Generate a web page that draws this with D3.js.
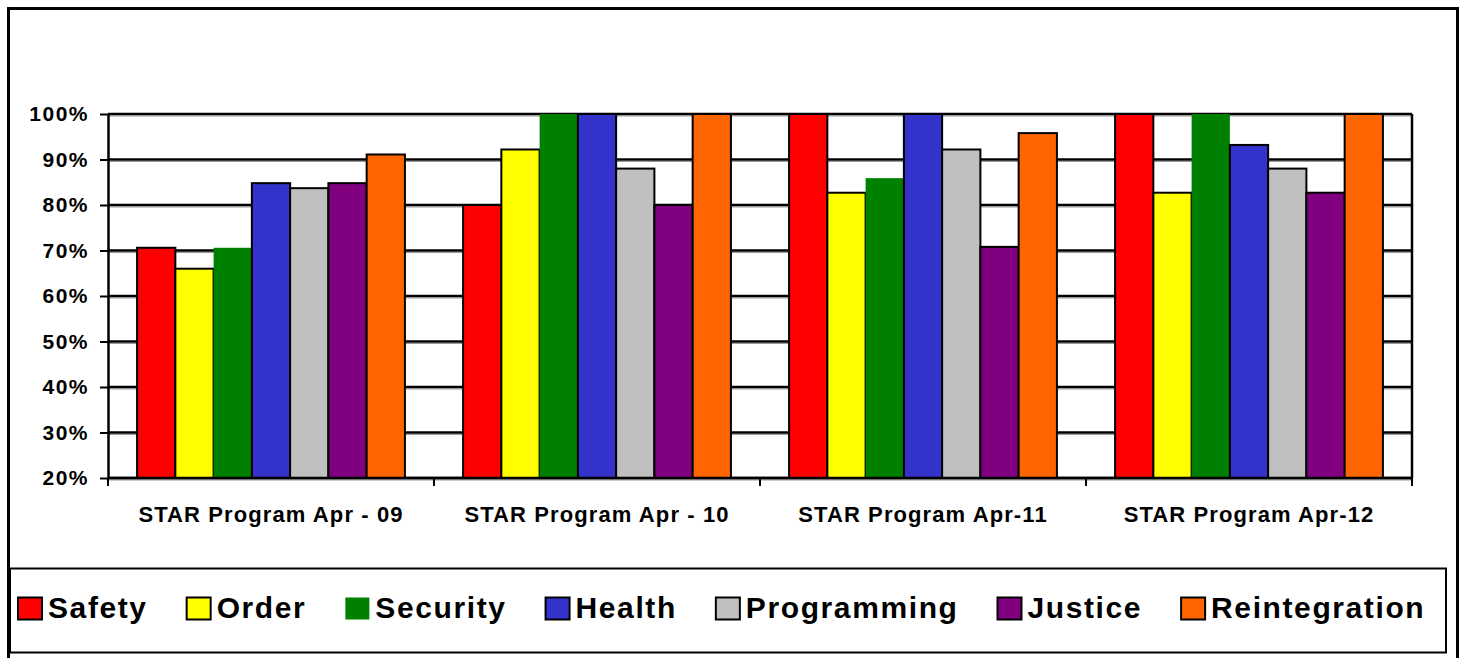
<!DOCTYPE html>
<html>
<head>
<meta charset="utf-8">
<script src="https://cdn.jsdelivr.net/npm/d3@7"></script>
<style>
  html, body { margin: 0; padding: 0; background: #fff; }
  svg { display: block; }
  text { font-family: "Liberation Sans", Arial, sans-serif; font-weight: bold; fill: #000; }
</style>
</head>
<body>
<svg id="chart" width="1460" height="658"></svg>
<script>
// ---- data ----
const categories = ["STAR Program Apr - 09", "STAR Program Apr - 10", "STAR Program Apr-11", "STAR Program Apr-12"];
const seriesNames = ["Safety", "Order", "Security", "Health", "Programming", "Justice", "Reintegration"];
const seriesColors = ["#FF0000", "#FFFF00", "#008000", "#3333CC", "#C0C0C0", "#800080", "#FF6600"];
const safety        = [0.706, 0.80, 1.00, 1.00];
const order         = [0.66, 0.922, 0.827, 0.827];
const security      = [0.706, 1.00, 0.859, 1.00];
const health        = [0.848, 1.00, 1.00, 0.932];
const programming   = [0.837, 0.88, 0.922, 0.88];
const justice       = [0.848, 0.80, 0.708, 0.827];
const reintegration = [0.911, 1.00, 0.958, 1.00];
const seriesValues = [safety, order, security, health, programming, justice, reintegration];
const yTicks = [0.2, 0.3, 0.4, 0.5, 0.6, 0.7, 0.8, 0.9, 1.0];

// ---- layout ----
const svg = d3.select("#chart");
const plot = { left: 108, right: 1412, top: 114, bottom: 478 };

// outer border
svg.append("rect").attr("x", 8.5).attr("y", 8.5).attr("width", 1449).attr("height", 660)
  .attr("fill", "none").attr("stroke", "#000").attr("stroke-width", 3);

const x0 = d3.scaleBand().domain(categories).range([plot.left, plot.right]).paddingInner(0).paddingOuter(0);
const x1 = d3.scaleBand().domain(seriesNames).range([0, x0.bandwidth()]).paddingInner(0).paddingOuter(0.76);
const y = d3.scaleLinear().domain([0.2, 1.0]).range([plot.bottom, plot.top]);

// gridlines
const grid = svg.append("g");
grid.selectAll("line.shadow").data(yTicks).join("line")
  .attr("x1", plot.left).attr("x2", plot.right)
  .attr("y1", d => y(d) + 2).attr("y2", d => y(d) + 2)
  .attr("stroke", "#9a9a9a").attr("stroke-width", 1);
grid.selectAll("line.g").data(yTicks).join("line")
  .attr("x1", plot.left).attr("x2", plot.right)
  .attr("y1", d => y(d)).attr("y2", d => y(d))
  .attr("stroke", "#000").attr("stroke-width", 2.5);
// right border
svg.append("line").attr("x1", plot.right).attr("x2", plot.right)
  .attr("y1", plot.top).attr("y2", plot.bottom).attr("stroke", "#000").attr("stroke-width", 2.5);

// bars
const groups = svg.append("g").selectAll("g").data(categories).join("g")
  .attr("transform", d => `translate(${x0(d)},0)`);
groups.selectAll("rect").data((c, ci) => seriesNames.map((s, si) => ({ s, si, v: seriesValues[si][ci] })))
  .join("rect")
  .attr("x", d => x1(d.s))
  .attr("width", x1.bandwidth())
  .attr("y", d => y(d.v))
  .attr("height", d => y(0.2) - y(d.v))
  .attr("fill", d => seriesColors[d.si])
  .attr("stroke", d => d.s === "Security" ? "none" : "#000")
  .attr("stroke-width", 2);

// y axis
const yAxis = svg.append("g").attr("transform", `translate(${plot.left},0)`)
  .call(d3.axisLeft(y).tickValues(yTicks).tickFormat(d3.format(".0%")).tickSize(8).tickSizeOuter(0).tickPadding(11));
yAxis.select(".domain").attr("stroke", "#000").attr("stroke-width", 2.5);
yAxis.selectAll(".tick line").attr("stroke", "#000").attr("stroke-width", 2);
yAxis.selectAll(".tick text").style("font-size", "21px").style("letter-spacing", "1.5px")
  .style("font-family", "'Liberation Sans', Arial, sans-serif").style("font-weight", "bold");

// x axis
const xAxis = svg.append("g").attr("transform", `translate(0,${plot.bottom})`);
xAxis.append("line").attr("x1", plot.left).attr("x2", plot.right).attr("y1", 0).attr("y2", 0)
  .attr("stroke", "#000").attr("stroke-width", 2.5);
const boundaries = categories.map(c => x0(c)).concat([x0(categories[categories.length - 1]) + x0.bandwidth()]);
xAxis.selectAll("line.t").data(boundaries).join("line")
  .attr("x1", d => d).attr("x2", d => d).attr("y1", 0).attr("y2", 8)
  .attr("stroke", "#000").attr("stroke-width", 2);
xAxis.selectAll("text").data(categories).join("text")
  .attr("x", d => x0(d) + x0.bandwidth() / 2)
  .attr("y", 44)
  .attr("text-anchor", "middle")
  .style("font-size", "22px").style("letter-spacing", "1.1px")
  .text(d => d);

// legend
svg.append("rect").attr("x", 10).attr("y", 568.5).attr("width", 1436).attr("height", 84)
  .attr("fill", "#fff").attr("stroke", "#000").attr("stroke-width", 2);
const legend = svg.append("g");
let lx = 17;
seriesNames.forEach((s, i) => {
  legend.append("rect").attr("x", lx + 1).attr("y", 597.5).attr("width", 24).attr("height", 22)
    .attr("fill", seriesColors[i]).attr("stroke", s === "Security" ? "none" : "#000").attr("stroke-width", 2);
  const t = legend.append("text").attr("x", lx + 31).attr("y", 618)
    .style("font-size", "30px").style("letter-spacing", "1.6px").text(s);
  lx = lx + 31 + t.node().getComputedTextLength() + 38;
});
</script>
</body>
</html>
